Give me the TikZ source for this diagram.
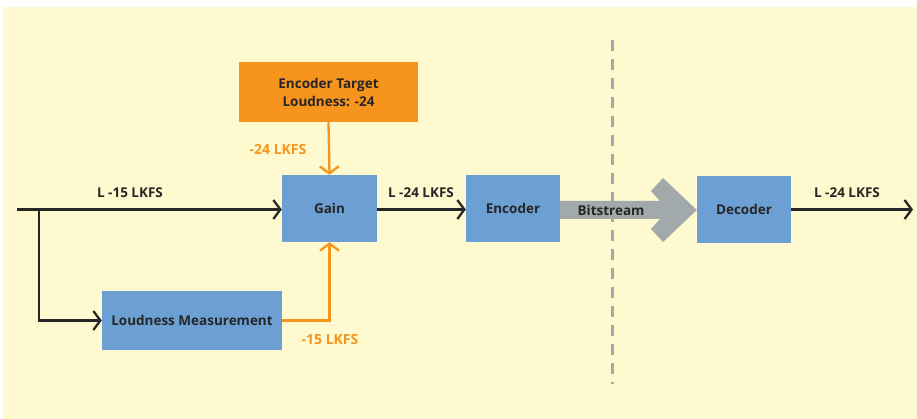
\documentclass[tikz,border=0pt]{standalone}
\usepackage{fontspec}
\setmainfont{Open Sans}
\usetikzlibrary{arrows.meta}
\definecolor{bgy}{HTML}{FEF9CE}
\definecolor{boxblue}{HTML}{6C9FD4}
\definecolor{orng}{HTML}{F7941E}
\definecolor{gry}{HTML}{A2A9AB}
\definecolor{txt}{HTML}{262626}
\tikzset{
  blk/.style={fill=boxblue, draw=none, inner sep=0pt, font=\bfseries\fontsize{13.5}{16}\selectfont, text=txt},
  conn/.style={draw=txt, line width=2.3pt, -{Straight Barb[length=7pt,width=19pt,line width=2.3pt]}},
  oconn/.style={draw=orng, line width=2.3pt, -{Straight Barb[length=7pt,width=19pt,line width=2.3pt]}},
  lbl/.style={font=\bfseries\fontsize{13.5}{16}\selectfont, text=txt, inner sep=0pt},
  olbl/.style={font=\bfseries\fontsize{14}{16}\selectfont, text=orng, inner sep=0pt},
}
\begin{document}
\begin{tikzpicture}[x=1pt,y=-1pt]
\useasboundingbox (0,0) rectangle (917,419);
\fill[bgy] (3,7) rectangle (917,419);
% dashed divider
\coordinate (dtop) at (612.5,40);
\coordinate (dbot) at (612.5,384);
\draw[gry, line width=3.5pt, dash pattern=on 11pt off 8pt] (dtop) -- (dbot);
% boxes
\node[fill=orng, draw=none, inner sep=0pt, minimum width=179pt, minimum height=60pt, align=center, font=\bfseries\fontsize{13.5}{18}\selectfont, text=txt] (tgt) at (328.5,92) {Encoder Target\\Loudness: -24};
\node[blk, minimum width=95pt, minimum height=67pt] (gain) at (329.5,208.5) {Gain};
\node[blk, minimum width=94pt, minimum height=67pt] (enc) at (513,208.5) {Encoder};
\node[blk, minimum width=94pt, minimum height=67pt] (dec) at (744,209.5) {Decoder};
\node[blk, minimum width=180pt, minimum height=59pt] (lm) at (192,320.5) {Loudness Measurement};
% bitstream arrow
\fill[gry] (enc.east |- 0,201) -- (660,201) -- (651,191) -- (663,178) -- (dec.west |- 0,210) -- (663,242) -- (651,229) -- (660,219) -- (enc.east |- 0,219) -- cycle;
\node[lbl] (bs) at (611,210) {Bitstream};
% main path
\coordinate (in) at (17,209.5);
\coordinate (br) at (39,209.5);
\coordinate (out) at (913,209.5);
\draw[conn] (in) -- (gain.west |- in);
\draw[conn] (br) |- (lm.west);
\draw[conn] (gain.east |- in) -- (enc.west |- in);
\draw[conn] (dec.east |- out) -- (out);
% orange
\draw[oconn] (tgt.south) -- (gain.north);
\draw[oconn] (lm.east) -| (gain.south);
% labels
\node[lbl] (l1) at (130,193) {L -15 LKFS};
\node[lbl] (l2) at (421,193) {L -24 LKFS};
\node[lbl] (l3) at (847,193) {L -24 LKFS};
\node[olbl] (o1) at (278,150) {-24 LKFS};
\node[olbl] (o2) at (330,339) {-15 LKFS};
\end{tikzpicture}
\end{document}
